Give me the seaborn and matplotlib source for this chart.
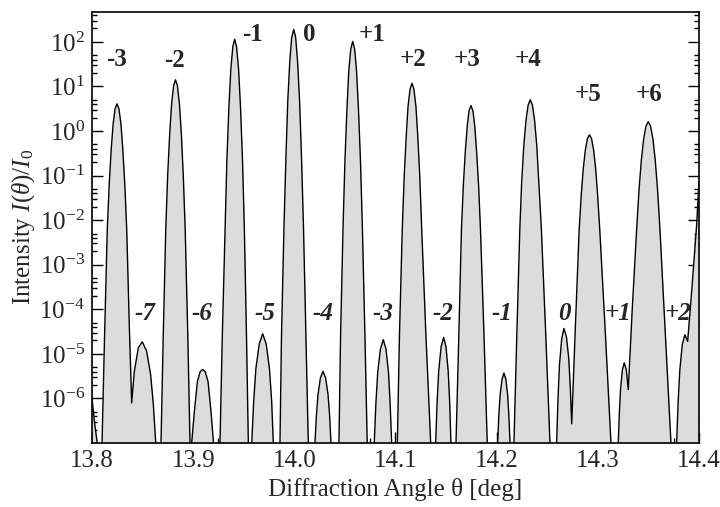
import numpy as np
import pandas as pd
import matplotlib
matplotlib.use("Agg")
import matplotlib.pyplot as plt
import seaborn as sns
from matplotlib.ticker import FixedLocator, LogLocator, MultipleLocator, NullFormatter, FormatStrFormatter

# curve, lobe by lobe (log10 of I/I0); values below 1e-7 are out of view
theta = [
    13.8000, 13.8025, 13.8052, 13.8057, 13.8094,
    # main -3
    13.8099, 13.8124, 13.8151, 13.8170, 13.8190, 13.8209, 13.8228, 13.8247, 13.8266, 13.8286, 13.8304, 13.8324, 13.8343, 13.8369, 13.8392,
    # side -7
    13.8418, 13.8458, 13.8497, 13.8540, 13.8579, 13.8606, 13.8630, 13.8638,
    # main -2
    13.8677, 13.8682, 13.8704, 13.8729, 13.8748, 13.8768, 13.8787, 13.8807, 13.8825, 13.8844, 13.8864, 13.8883, 13.8902, 13.8921, 13.8947, 13.8969, 13.8974,
    # side -6
    13.8985, 13.9012, 13.9042, 13.9069, 13.9094, 13.9119, 13.9147, 13.9176, 13.9201, 13.9206,
    # main -1
    13.9260, 13.9265, 13.9288, 13.9315, 13.9333, 13.9353, 13.9372, 13.9392, 13.9410, 13.9429, 13.9449, 13.9468, 13.9488, 13.9506, 13.9527, 13.9545, 13.9550,
    # side -5
    13.9574, 13.9579, 13.9598, 13.9620, 13.9653, 13.9687, 13.9722, 13.9754, 13.9776, 13.9792, 13.9797,
    # main 0
    13.9853, 13.9858, 13.9873, 13.9897, 13.9917, 13.9935, 13.9955, 13.9974, 13.9994, 14.0013, 14.0032, 14.0052, 14.0071, 14.0091, 14.0115, 14.0138, 14.0143,
    # side -4
    14.0199, 14.0204, 14.0218, 14.0234, 14.0258, 14.0283, 14.0309, 14.0333, 14.0349, 14.0362, 14.0367,
    # main +1
    14.0437, 14.0441, 14.0457, 14.0481, 14.0500, 14.0520, 14.0538, 14.0558, 14.0577, 14.0596, 14.0615, 14.0634, 14.0654, 14.0673, 14.0698, 14.0721, 14.0726,
    # side -3
    14.0785, 14.0790, 14.0806, 14.0824, 14.0851, 14.0879, 14.0906, 14.0931, 14.0947, 14.0962, 14.0967,
    # main +2
    14.1013, 14.1018, 14.1039, 14.1067, 14.1086, 14.1106, 14.1124, 14.1144, 14.1163, 14.1182, 14.1202, 14.1220, 14.1240, 14.1259, 14.1301, 14.1348, 14.1353,
    # side -2
    14.1392, 14.1397, 14.1411, 14.1427, 14.1451, 14.1476, 14.1499, 14.1521, 14.1536, 14.1548, 14.1553,
    # main +3
    14.1593, 14.1598, 14.1626, 14.1652, 14.1671, 14.1691, 14.1710, 14.1727, 14.1746, 14.1765, 14.1783, 14.1801, 14.1821, 14.1840, 14.1875, 14.1907, 14.1912,
    # side -1
    14.2005, 14.2010, 14.2021, 14.2034, 14.2053, 14.2072, 14.2091, 14.2109, 14.2121, 14.2132, 14.2137,
    # main +4
    14.2166, 14.2171, 14.2199, 14.2229, 14.2247, 14.2268, 14.2290, 14.2311, 14.2332, 14.2354, 14.2375, 14.2397, 14.2417, 14.2442, 14.2486, 14.2527, 14.2532,
    # side 0
    14.2588, 14.2593, 14.2606, 14.2621, 14.2643, 14.2665, 14.2690, 14.2713, 14.2728, 14.2742,
    # main +5
    14.2778, 14.2816, 14.2836, 14.2856, 14.2877, 14.2897, 14.2917, 14.2938, 14.2958, 14.2979, 14.2998, 14.3019, 14.3076, 14.3130, 14.3135,
    # side +1
    14.3197, 14.3202, 14.3213, 14.3225, 14.3243, 14.3261, 14.3281, 14.3301,
    # main +6
    14.3341, 14.3384, 14.3407, 14.3430, 14.3453, 14.3476, 14.3499, 14.3521, 14.3545, 14.3568, 14.3591, 14.3614, 14.3669, 14.3723, 14.3728,
    # side +2 and rise of the next main peak
    14.3774, 14.3779, 14.3794, 14.3811, 14.3835, 14.3861, 14.3888, 14.3931, 14.3977, 14.4000,
]
log_intensity = [
    -6.0, -6.55, -7.0, -7.6, -7.6,
    -7.0, -4.6, -2.2, -1.19, -0.40, 0.16, 0.50, 0.61, 0.50, 0.16, -0.40, -1.19, -2.2, -4.4, -6.1,
    -5.40, -4.86, -4.73, -4.94, -5.46, -6.13, -7.0, -7.6,
    -7.6, -7.0, -4.6, -2.2, -0.99, -0.06, 0.61, 1.02, 1.15, 1.02, 0.61, -0.06, -0.99, -2.2, -4.6, -7.0, -7.6,
    -7.0, -6.29, -5.62, -5.40, -5.35, -5.40, -5.62, -6.29, -7.0, -7.6,
    -7.6, -7.0, -4.6, -2.2, -0.67, 0.53, 1.38, 1.89, 2.06, 1.89, 1.38, 0.53, -0.67, -2.2, -4.6, -7.0, -7.6,
    -7.6, -7.0, -6.07, -5.33, -4.78, -4.55, -4.78, -5.33, -6.07, -7.0, -7.6,
    -7.6, -7.0, -4.6, -2.2, -0.59, 0.67, 1.56, 2.10, 2.28, 2.10, 1.56, 0.67, -0.59, -2.2, -4.6, -7.0, -7.6,
    -7.6, -7.0, -6.39, -5.91, -5.54, -5.39, -5.54, -5.91, -6.39, -7.0, -7.6,
    -7.6, -7.0, -4.6, -2.2, -0.68, 0.49, 1.34, 1.84, 2.01, 1.84, 1.34, 0.49, -0.68, -2.2, -4.6, -7.0, -7.6,
    -7.6, -7.0, -6.12, -5.42, -4.89, -4.68, -4.89, -5.42, -6.12, -7.0, -7.6,
    -7.6, -7.0, -4.6, -2.2, -1.02, -0.11, 0.55, 0.94, 1.07, 0.94, 0.55, -0.11, -1.02, -2.2, -4.6, -7.0, -7.6,
    -7.6, -7.0, -6.10, -5.39, -4.84, -4.63, -4.84, -5.39, -6.10, -7.0, -7.6,
    -7.6, -7.0, -4.6, -2.2, -1.20, -0.43, 0.13, 0.46, 0.57, 0.46, 0.13, -0.43, -1.20, -2.2, -4.6, -7.0, -7.6,
    -7.6, -7.0, -6.40, -5.93, -5.57, -5.43, -5.57, -5.93, -6.40, -7.0, -7.6,
    -7.6, -7.0, -4.6, -2.2, -1.16, -0.34, 0.24, 0.58, 0.70, 0.58, 0.24, -0.34, -1.16, -2.2, -4.6, -7.0, -7.6,
    -7.6, -7.0, -6.02, -5.25, -4.66, -4.43, -4.62, -5.11, -5.76, -6.57,
    -4.4, -2.2, -1.44, -0.85, -0.42, -0.17, -0.085, -0.17, -0.42, -0.85, -1.44, -2.2, -4.6, -7.0, -7.6,
    -7.6, -7.0, -6.32, -5.78, -5.36, -5.20, -5.35, -5.80,
    -3.97, -2.2, -1.33, -0.66, -0.18, 0.11, 0.21, 0.11, -0.18, -0.66, -1.33, -2.2, -4.6, -7.0, -7.6,
    -7.6, -7.0, -6.08, -5.35, -4.79, -4.57, -4.72, -3.5, -2.1, -1.15,
]

# order labels
main_orders = ["-3", "-2", "-1", "0", "+1", "+2", "+3", "+4", "+5", "+6"]
main_x = [13.8244, 13.8820, 13.9584, 14.0148, 14.0765, 14.1170, 14.1703, 14.2312, 14.2905, 14.3503]
main_y = [39.5, 37.5, 143.5, 143.5, 143.5, 39.5, 39.5, 39.5, 6.7, 6.7]
side_orders = ["-7", "-6", "-5", "-4", "-3", "-2", "-1", "0", "+1", "+2"]
side_x = [13.8524, 13.9084, 13.9710, 14.0280, 14.0879, 14.1472, 14.2050, 14.2665, 14.3202, 14.3795]
side_y = [7.9e-5] * 10

y_ticks = [1e-6, 1e-5, 1e-4, 1e-3, 1e-2, 1e-1, 1e0, 1e1, 1e2]

sns.set_style("ticks")
plt.rcParams["font.family"] = ["Liberation Serif", "DejaVu Serif"]
plt.rcParams["mathtext.fontset"] = "custom"
plt.rcParams["mathtext.rm"] = "Liberation Serif"
plt.rcParams["mathtext.it"] = "Liberation Serif:italic"
plt.rcParams["mathtext.bf"] = "Liberation Serif:bold"
plt.rcParams["axes.unicode_minus"] = False

df = pd.DataFrame({"theta": theta, "I": np.power(10.0, log_intensity)})

fig = plt.figure(figsize=(7.2, 5.07), dpi=100)
ax = fig.add_axes([0.1278, 0.1262, 0.8430, 0.8511])

ax.fill_between(df["theta"], df["I"], 1e-9, color="#dcdcdc", lw=0)
sns.lineplot(data=df, x="theta", y="I", sort=False, estimator=None,
             color="black", lw=1.0, ax=ax)

ax.set_yscale("log")
ax.set_xlim(13.8, 14.4)
ax.set_ylim(1e-7, 480)

ax.xaxis.set_major_locator(MultipleLocator(0.1))
ax.xaxis.set_minor_locator(MultipleLocator(0.025))
ax.xaxis.set_major_formatter(FormatStrFormatter("%.1f"))
ax.yaxis.set_major_locator(FixedLocator(y_ticks))
ax.yaxis.set_minor_locator(LogLocator(base=10, subs=[2, 3, 4, 5], numticks=30))
ax.yaxis.set_minor_formatter(NullFormatter())

ax.tick_params(which="both", direction="in", left=True, right=True, top=False,
               bottom=True, width=1, color="black", labelsize=18)
ax.tick_params(which="major", length=8, pad=5)
ax.tick_params(which="minor", length=3.6)
for s in ax.spines.values():
    s.set_linewidth(1.2)
    s.set_color("black")

for lab, x, y in zip(main_orders, main_x, main_y):
    ax.text(x, y, lab, ha="center", va="center", fontsize=18, fontweight="bold")
for lab, x, y in zip(side_orders, side_x, side_y):
    ax.text(x, y, lab, ha="center", va="center", fontsize=18,
            fontweight="bold", fontstyle="italic")

ax.set_xlabel("Diffraction Angle θ [deg]", fontsize=18, labelpad=4)
ax.set_ylabel(r"Intensity $I(\theta)/I_{0}$", fontsize=18, labelpad=2)

fig.savefig("out.png", dpi=100)
